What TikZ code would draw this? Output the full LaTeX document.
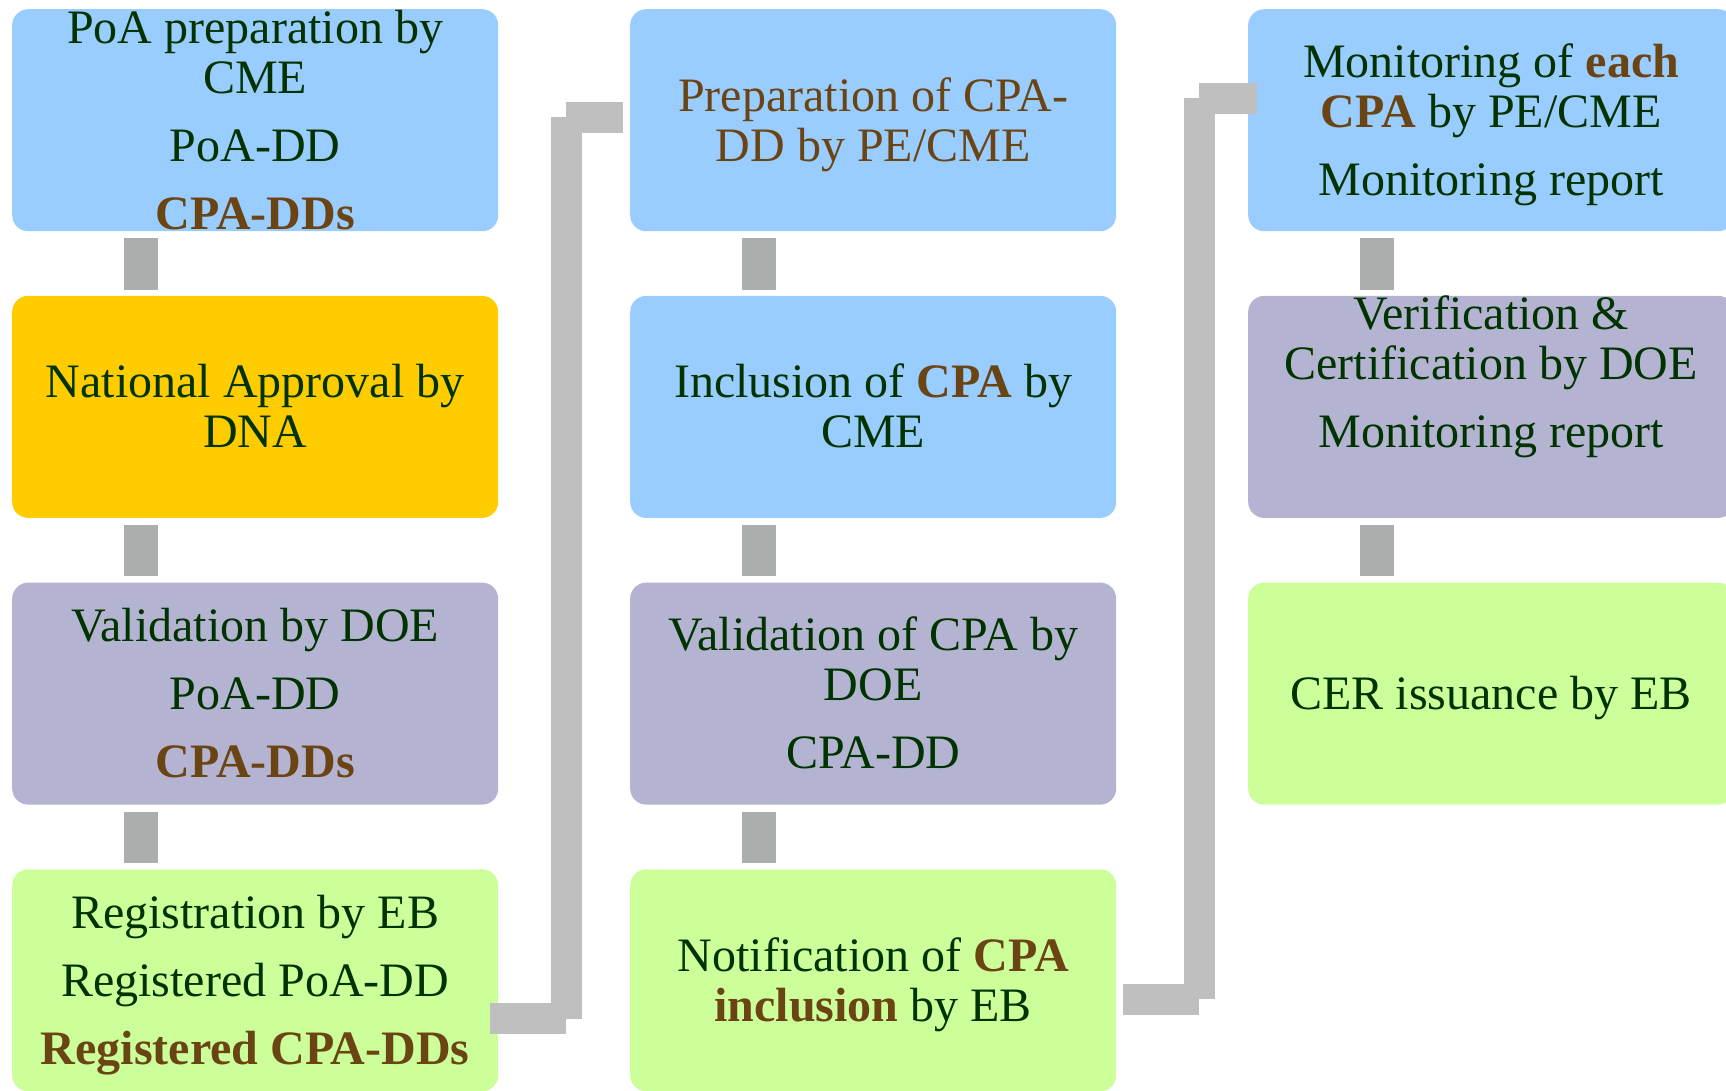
\documentclass[tikz,border=0pt]{standalone}
\usepackage{fontspec}
\setmainfont{Liberation Serif}
\usetikzlibrary{matrix}
\definecolor{boxblue}{HTML}{99CCFF}
\definecolor{boxgold}{HTML}{FFCC00}
\definecolor{boxlilac}{HTML}{B4B4D2}
\definecolor{boxgreen}{HTML}{CCFF99}
\definecolor{txtgreen}{HTML}{003300}
\definecolor{txtbrown}{HTML}{6B4414}
\definecolor{linkgray}{HTML}{AAAFAD}
\definecolor{jumpgray}{HTML}{BFBFBF}
\newcommand{\hl}[1]{\textcolor{txtbrown}{\bfseries #1}}
\newcommand{\topstrut}{\rule{0pt}{43pt}}
\newcommand{\botstrut}{\rule[-11pt]{0pt}{11pt}}
\newcommand{\celltext}[1]{\vbox to 200pt{\hsize=470pt\vss\centering\topstrut #1\botstrut\par\vss}}
\tikzset{
  stage/.style={rounded corners=16pt, inner sep=0pt, minimum width=486pt, minimum height=222pt,
    text=txtgreen, font=\fontsize{48}{50}\selectfont},
  bluebox/.style={fill=boxblue},
  goldbox/.style={fill=boxgold},
  lilacbox/.style={fill=boxlilac},
  greenbox/.style={fill=boxgreen},
  downbar/.style={draw=linkgray, line width=34pt},
  jumpbar/.style={draw=jumpgray, line width=31pt}
}
\begin{document}
\begin{tikzpicture}
		\useasboundingbox (0pt,0pt) rectangle (1726pt,-1090pt);
		\matrix (b) [matrix of nodes, nodes={stage}, inner sep=0pt, row sep=64.7pt, column sep=132pt, anchor=north west] at (12pt,-9pt)
		{
			|[bluebox]| \celltext{PoA preparation by\\CME\\[18pt]PoA-DD\\[18pt]\hl{CPA-DDs}} &
			|[bluebox]| \celltext{\color{txtbrown}Preparation of CPA-\\DD by PE/CME} &
			|[bluebox]| \celltext{Monitoring of \hl{each}\\\hl{CPA} by PE/CME\\[18pt]Monitoring report}\\
			|[goldbox]| \celltext{National Approval by\\DNA} &
			|[bluebox]| \celltext{Inclusion of \hl{CPA} by\\CME} &
			|[lilacbox]| \celltext{Verification \&\\Certification by DOE\\[18pt]Monitoring report\\[18pt]\mbox{}}\\
			|[lilacbox]| \celltext{Validation by DOE\\[18pt]PoA-DD\\[18pt]\hl{CPA-DDs}} &
			|[lilacbox]| \celltext{Validation of CPA by\\DOE\\[18pt]CPA-DD} &
			|[greenbox]| \celltext{CER issuance by EB}\\
			|[greenbox]| \celltext{Registration by EB\\[18pt]Registered PoA-DD\\[18pt]\hl{Registered CPA-DDs}} &
			|[greenbox]| \celltext{Notification of \hl{CPA}\\\hl{inclusion} by EB} & \\
		};
		\path[downbar]
		([xshift=129pt,yshift=-7pt]b-1-1.south west) edge ([xshift=129pt,yshift=6pt]b-2-1.north west)
		([xshift=129pt,yshift=-7pt]b-2-1.south west) edge ([xshift=129pt,yshift=6pt]b-3-1.north west)
		([xshift=129pt,yshift=-7pt]b-3-1.south west) edge ([xshift=129pt,yshift=6pt]b-4-1.north west)
		([xshift=129pt,yshift=-7pt]b-1-2.south west) edge ([xshift=129pt,yshift=6pt]b-2-2.north west)
		([xshift=129pt,yshift=-7pt]b-2-2.south west) edge ([xshift=129pt,yshift=6pt]b-3-2.north west)
		([xshift=129pt,yshift=-7pt]b-3-2.south west) edge ([xshift=129pt,yshift=6pt]b-4-2.north west)
		([xshift=129pt,yshift=-7pt]b-1-3.south west) edge ([xshift=129pt,yshift=6pt]b-2-3.north west)
		([xshift=129pt,yshift=-7pt]b-2-3.south west) edge ([xshift=129pt,yshift=6pt]b-3-3.north west);
		% column to column
		\coordinate (s1) at ([xshift=-8pt,yshift=-38.5pt]b-4-1.east);
		\coordinate (k1) at ([xshift=68pt]b-4-1.east);
		\coordinate (t1) at ([xshift=-7pt,yshift=3pt]b-1-2.west);
		\coordinate (s2) at ([xshift=7pt,yshift=-19pt]b-4-2.east);
		\coordinate (k2) at ([xshift=83pt]b-4-2.east);
		\coordinate (t2) at ([xshift=9pt,yshift=22pt]b-1-3.west);
		\path[jumpbar]
		(s1) edge (s1 -| k1) (s1 -| k1) edge (t1 -| k1) (t1 -| k1) edge (t1)
		(s2) edge (s2 -| k2) (s2 -| k2) edge (t2 -| k2) (t2 -| k2) edge (t2);
	\end{tikzpicture}
\end{document}
